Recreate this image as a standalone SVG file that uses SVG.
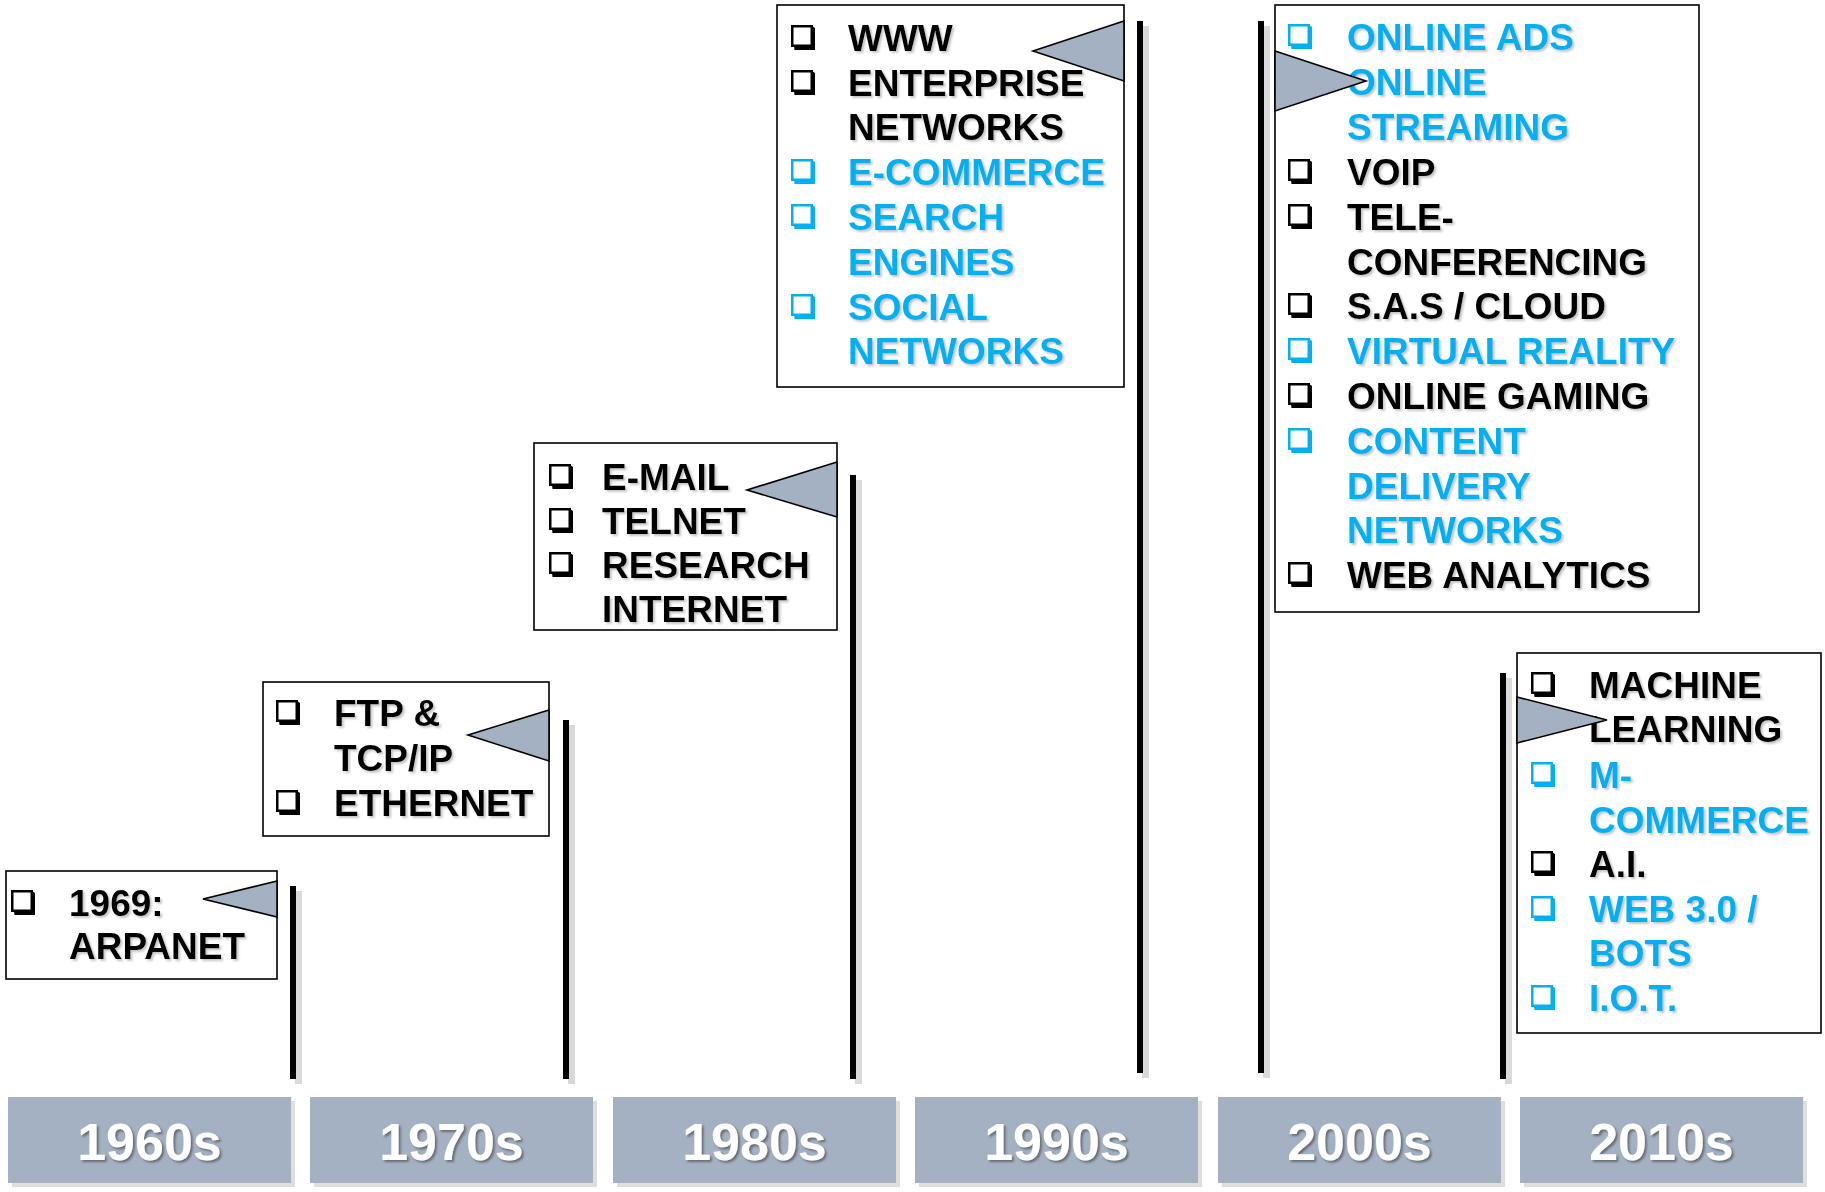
<svg xmlns="http://www.w3.org/2000/svg" xmlns:xlink="http://www.w3.org/1999/xlink" width="1825" height="1192" viewBox="0 0 1825 1192">
<style>
.t{font-family:"Liberation Sans",Arial,sans-serif;font-weight:bold;font-size:37px;fill:#000;filter:url(#ts)}
.b{fill:#00B0F0}
.box{fill:#fff;stroke:#000;stroke-width:1.6}
.flag{fill:#A3B1C2;stroke:#000;stroke-width:1.6;stroke-linejoin:miter}
.yr{fill:#A3B1C2}
.yrs{fill:#DEDEDE}
.yt{font-family:"Liberation Sans",Arial,sans-serif;font-weight:bold;font-size:52px;fill:#fff;text-anchor:middle;filter:url(#ys)}
.pole{fill:#000}
.poles{fill:#D9D9D9}
.k{color:#000}
.c{color:#00B0F0}
</style>
<defs>
<filter id="ts" x="-5%" y="-20%" width="110%" height="150%">
<feDropShadow dx="2" dy="2" stdDeviation="0.8" flood-color="#808080" flood-opacity="0.45"/>
</filter>
<filter id="ys" x="-5%" y="-20%" width="110%" height="150%">
<feDropShadow dx="2" dy="2" stdDeviation="1" flood-color="#404040" flood-opacity="0.6"/>
</filter>
<g id="cb">
<path d="M1 4 L3.5 25 L24 25 L24 3 L21 1 Z" fill="currentColor"/>
<rect x="1.25" y="1.25" width="19.5" height="19.5" fill="#fff" stroke="currentColor" stroke-width="2.5"/>
</g>
</defs>
<rect width="1825" height="1192" fill="#fff"/>

<g id="connectors">
<rect class="poles" x="295" y="891" width="7" height="193"/>
<rect class="pole" x="290" y="886" width="6" height="193"/>
<rect class="poles" x="568" y="725" width="7" height="359"/>
<rect class="pole" x="563" y="720" width="6" height="359"/>
<rect class="poles" x="855" y="480" width="7" height="604"/>
<rect class="pole" x="850" y="475" width="6" height="604"/>
<rect class="poles" x="1142" y="26" width="7" height="1052"/>
<rect class="pole" x="1137" y="21" width="6" height="1052"/>
<rect class="poles" x="1263" y="26" width="7" height="1052"/>
<rect class="pole" x="1258" y="21" width="6" height="1052"/>
<rect class="poles" x="1505" y="678" width="7" height="406"/>
<rect class="pole" x="1500" y="673" width="6" height="406"/>
</g>

<g id="years">
<g id="y1960"><rect class="yrs" x="12" y="1101" width="283" height="86"/><rect class="yr" x="8" y="1097" width="283" height="86"/><text class="yt" x="149.5" y="1160">1960s</text></g>
<g id="y1970"><rect class="yrs" x="314" y="1101" width="283" height="86"/><rect class="yr" x="310" y="1097" width="283" height="86"/><text class="yt" x="451.5" y="1160">1970s</text></g>
<g id="y1980"><rect class="yrs" x="617" y="1101" width="283" height="86"/><rect class="yr" x="613" y="1097" width="283" height="86"/><text class="yt" x="754.5" y="1160">1980s</text></g>
<g id="y1990"><rect class="yrs" x="919" y="1101" width="283" height="86"/><rect class="yr" x="915" y="1097" width="283" height="86"/><text class="yt" x="1056.5" y="1160">1990s</text></g>
<g id="y2000"><rect class="yrs" x="1222" y="1101" width="283" height="86"/><rect class="yr" x="1218" y="1097" width="283" height="86"/><text class="yt" x="1359.5" y="1160">2000s</text></g>
<g id="y2010"><rect class="yrs" x="1524" y="1101" width="283" height="86"/><rect class="yr" x="1520" y="1097" width="283" height="86"/><text class="yt" x="1661.5" y="1160">2010s</text></g>
</g>

<g id="n1960">
<rect class="box" x="6" y="871" width="271" height="108"/>
<use xlink:href="#cb" href="#cb" class="k" x="11" y="890"/>
<text class="t" x="69" y="916">1969:</text>
<text class="t" x="69" y="959">ARPANET</text>
<polygon class="flag" points="277,881 203,899 277,917"/>
</g>

<g id="n1970">
<rect class="box" x="263" y="682" width="286" height="154"/>
<use xlink:href="#cb" href="#cb" class="k" x="276" y="700"/>
<text class="t" x="334" y="726">FTP &amp;</text>
<text class="t" x="334" y="771">TCP/IP</text>
<use xlink:href="#cb" href="#cb" class="k" x="276" y="790"/>
<text class="t" x="334" y="816">ETHERNET</text>
<polygon class="flag" points="549,710 468,735 549,761"/>
</g>

<g id="n1980">
<rect class="box" x="534" y="443" width="303" height="187"/>
<use xlink:href="#cb" href="#cb" class="k" x="549" y="464"/>
<text class="t" x="602" y="490">E-MAIL</text>
<use xlink:href="#cb" href="#cb" class="k" x="549" y="508"/>
<text class="t" x="602" y="534">TELNET</text>
<use xlink:href="#cb" href="#cb" class="k" x="549" y="552"/>
<text class="t" x="602" y="578">RESEARCH</text>
<text class="t" x="602" y="622">INTERNET</text>
<polygon class="flag" points="837,462 747,490 837,517"/>
</g>

<g id="n1990">
<rect class="box" x="777" y="5" width="347" height="382"/>
<use xlink:href="#cb" href="#cb" class="k" x="791" y="25"/>
<text class="t" x="848" y="51">WWW</text>
<use xlink:href="#cb" href="#cb" class="k" x="791" y="70"/>
<text class="t" x="848" y="96">ENTERPRISE</text>
<text class="t" x="848" y="140">NETWORKS</text>
<use xlink:href="#cb" href="#cb" class="c" x="791" y="159"/>
<text class="t b" x="848" y="185">E-COMMERCE</text>
<use xlink:href="#cb" href="#cb" class="c" x="791" y="204"/>
<text class="t b" x="848" y="230">SEARCH</text>
<text class="t b" x="848" y="275">ENGINES</text>
<use xlink:href="#cb" href="#cb" class="c" x="791" y="294"/>
<text class="t b" x="848" y="320">SOCIAL</text>
<text class="t b" x="848" y="364">NETWORKS</text>
<polygon class="flag" points="1124,21 1033,51 1124,81"/>
</g>

<g id="n2000">
<rect class="box" x="1275" y="5" width="424" height="607"/>
<use xlink:href="#cb" href="#cb" class="c" x="1288" y="24"/>
<text class="t b" x="1347" y="50">ONLINE ADS</text>
<use xlink:href="#cb" href="#cb" class="c" x="1288" y="69"/>
<text class="t b" x="1347" y="95">ONLINE</text>
<text class="t b" x="1347" y="140">STREAMING</text>
<use xlink:href="#cb" href="#cb" class="k" x="1288" y="159"/>
<text class="t" x="1347" y="185">VOIP</text>
<use xlink:href="#cb" href="#cb" class="k" x="1288" y="204"/>
<text class="t" x="1347" y="230">TELE-</text>
<text class="t" x="1347" y="275">CONFERENCING</text>
<use xlink:href="#cb" href="#cb" class="k" x="1288" y="293"/>
<text class="t" x="1347" y="319">S.A.S / CLOUD</text>
<use xlink:href="#cb" href="#cb" class="c" x="1288" y="338"/>
<text class="t b" x="1347" y="364">VIRTUAL REALITY</text>
<use xlink:href="#cb" href="#cb" class="k" x="1288" y="383"/>
<text class="t" x="1347" y="409">ONLINE GAMING</text>
<use xlink:href="#cb" href="#cb" class="c" x="1288" y="428"/>
<text class="t b" x="1347" y="454">CONTENT</text>
<text class="t b" x="1347" y="499">DELIVERY</text>
<text class="t b" x="1347" y="543">NETWORKS</text>
<use xlink:href="#cb" href="#cb" class="k" x="1288" y="562"/>
<text class="t" x="1347" y="588">WEB ANALYTICS</text>
<polygon class="flag" points="1275,51 1366,81 1275,111"/>
</g>

<g id="n2010">
<rect class="box" x="1517" y="653" width="304" height="380"/>
<use xlink:href="#cb" href="#cb" class="k" x="1531" y="672"/>
<text class="t" x="1589" y="698">MACHINE</text>
<text class="t" x="1589" y="742">LEARNING</text>
<use xlink:href="#cb" href="#cb" class="c" x="1531" y="762"/>
<text class="t b" x="1589" y="788">M-</text>
<text class="t b" x="1589" y="833">COMMERCE</text>
<use xlink:href="#cb" href="#cb" class="k" x="1531" y="851"/>
<text class="t" x="1589" y="877">A.I.</text>
<use xlink:href="#cb" href="#cb" class="c" x="1531" y="896"/>
<text class="t b" x="1589" y="922">WEB 3.0 /</text>
<text class="t b" x="1589" y="966">BOTS</text>
<use xlink:href="#cb" href="#cb" class="c" x="1531" y="985"/>
<text class="t b" x="1589" y="1011">I.O.T.</text>
<polygon class="flag" points="1517,697 1607,720 1517,743"/>
</g>
</svg>
